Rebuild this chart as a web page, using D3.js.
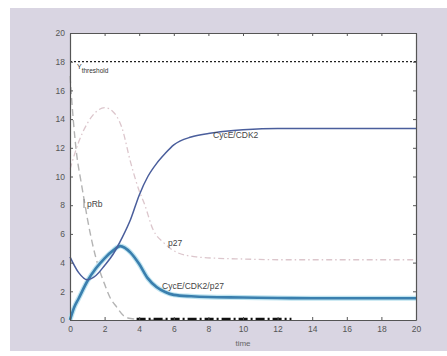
<!DOCTYPE html>
<html>
<head>
<meta charset="utf-8">
<script src="https://cdn.jsdelivr.net/npm/d3@7"></script>
<style>
    body { margin: 0; background: #fff; }
    svg { display: block; font-family: "Liberation Sans", Arial, sans-serif; }
</style>
</head>
<body>
<div id="chart"></div>
<script>
// values (time in x, level in y)
const xTicks = [0, 2, 4, 6, 8, 10, 12, 14, 16, 18, 20];
const yTicks = [0, 2, 4, 6, 8, 10, 12, 14, 16, 18, 20];
const threshold = 18;

const cdk2Time = [0, 0.5, 1, 1.5, 2, 2.5, 3, 3.5, 4, 4.5, 5, 5.5, 6, 7, 8, 9, 10, 12, 14, 16, 18, 20];
const cdk2Vals = [4.4, 3.3, 2.8, 3.1, 3.8, 4.6, 5.7, 7.0, 8.7, 10.0, 10.9, 11.6, 12.2, 12.75, 13.0, 13.15, 13.25, 13.35, 13.35, 13.35, 13.35, 13.35];

const complexTime = [0, 0.25, 0.5, 1, 1.5, 2, 2.5, 2.9, 3.5, 4, 4.5, 5, 5.5, 6, 7, 8, 10, 12, 14, 16, 18, 20];
const complexVals = [0, 0.9, 1.5, 2.7, 3.6, 4.3, 4.85, 5.15, 4.7, 3.9, 2.9, 2.3, 1.95, 1.75, 1.65, 1.6, 1.57, 1.53, 1.52, 1.52, 1.52, 1.52];

const p27Time = [0, 0.5, 1, 1.5, 2, 2.5, 3, 3.5, 4, 4.3, 4.8, 5.4, 6.2, 7.3, 8.5, 10, 12, 14, 16, 18, 20];
const p27Vals = [10.5, 12.4, 13.7, 14.5, 14.8, 14.5, 13.4, 11.0, 9.0, 8.1, 6.3, 5.4, 4.7, 4.4, 4.3, 4.25, 4.2, 4.2, 4.2, 4.2, 4.2];

const pRbTime = [0, 0.2, 0.4, 0.6, 0.8, 1.0, 1.3, 1.7, 2, 2.3, 2.7, 3.1, 3.5, 4, 5, 6];
const pRbVals = [17, 13.8, 11.4, 9.9, 8.5, 7.1, 5.3, 3.5, 2.5, 1.6, 0.9, 0.3, 0.1, 0.05, 0.02, 0];

const cycETime = [3.85, 6, 8, 10, 12.8];
const cycEVals = [0.08, 0.08, 0.08, 0.08, 0.08];

const W = 447, H = 356;
const plot = { left: 70, right: 416, top: 33, bottom: 320 };

const svg = d3.select("#chart").append("svg")
    .attr("width", W)
    .attr("height", H);

// lavender panel behind the axes
svg.append("rect")
    .attr("x", 10).attr("y", 8)
    .attr("width", W - 10).attr("height", 343)
    .attr("fill", "#d9d5e2");

svg.append("rect")
    .attr("x", plot.left).attr("y", plot.top)
    .attr("width", plot.right - plot.left).attr("height", plot.bottom - plot.top)
    .attr("fill", "#ffffff");

const x = d3.scaleLinear().domain([0, 20]).range([plot.left, plot.right]);
const y = d3.scaleLinear().domain([0, 20]).range([plot.bottom, plot.top]);

const line = d3.line()
    .x(d => x(d[0]))
    .y(d => y(d[1]))
    .curve(d3.curveMonotoneX);

const zip = (ts, vs) => ts.map((t, i) => [t, vs[i]]);

const g = svg.append("g");

// threshold
g.append("line")
    .attr("x1", x(0)).attr("x2", x(20))
    .attr("y1", y(threshold)).attr("y2", y(threshold))
    .attr("stroke", "#222").attr("stroke-width", 1.2)
    .attr("stroke-dasharray", "2,2");

// pRb
g.append("path")
    .datum(zip(pRbTime, pRbVals))
    .attr("d", line)
    .attr("fill", "none")
    .attr("stroke", "#b4b4b4").attr("stroke-width", 1.4)
    .attr("stroke-dasharray", "7,4");

// p27
g.append("path")
    .datum(zip(p27Time, p27Vals))
    .attr("d", line)
    .attr("fill", "none")
    .attr("stroke", "#dcc6cc").attr("stroke-width", 1.3)
    .attr("stroke-dasharray", "6,3,1.5,3");

// CycE/CDK2/p27 (thick, with light halo)
g.append("path")
    .datum(zip(complexTime, complexVals))
    .attr("d", line)
    .attr("fill", "none")
    .attr("stroke", "#bfe4f0").attr("stroke-width", 5);
g.append("path")
    .datum(zip(complexTime, complexVals))
    .attr("d", line)
    .attr("fill", "none")
    .attr("stroke", "#3a7fae").attr("stroke-width", 2.6);

// CycE/CDK2
g.append("path")
    .datum(zip(cdk2Time, cdk2Vals))
    .attr("d", line)
    .attr("fill", "none")
    .attr("stroke", "#4a5e9c").attr("stroke-width", 1.5);

// black dashed near zero
g.append("path")
    .datum(zip(cycETime, cycEVals))
    .attr("d", line)
    .attr("fill", "none")
    .attr("stroke", "#111").attr("stroke-width", 2.4)
    .attr("stroke-dasharray", "9,3,2,3");

// axes, MATLAB style ticks pointing inward
const tickStyle = sel => {
    sel.select(".domain").attr("stroke", "#555").attr("stroke-width", 1.2);
    sel.selectAll(".tick line").attr("stroke", "#555");
    sel.selectAll("text").attr("fill", "#555").attr("font-size", 8.5);
};

svg.append("g")
    .attr("transform", "translate(0," + plot.bottom + ")")
    .call(d3.axisBottom(x).tickValues(xTicks).tickSizeInner(-3).tickSizeOuter(0).tickPadding(6))
    .call(tickStyle);
svg.append("g")
    .attr("transform", "translate(" + plot.left + ",0)")
    .call(d3.axisLeft(y).tickValues(yTicks).tickSizeInner(-3).tickSizeOuter(0).tickPadding(5))
    .call(tickStyle);
svg.append("g")
    .attr("transform", "translate(0," + plot.top + ")")
    .call(d3.axisTop(x).tickValues(xTicks).tickSizeInner(-3).tickSizeOuter(0).tickFormat(""))
    .call(tickStyle);
svg.append("g")
    .attr("transform", "translate(" + plot.right + ",0)")
    .call(d3.axisRight(y).tickValues(yTicks).tickSizeInner(-3).tickSizeOuter(0).tickFormat(""))
    .call(tickStyle);

// labels
svg.append("text")
    .attr("x", (plot.left + plot.right) / 2).attr("y", 346)
    .attr("text-anchor", "middle")
    .attr("font-size", 8).attr("fill", "#666")
    .text("time");

const thr = svg.append("text")
    .attr("x", 77).attr("y", 69)
    .attr("font-size", 7).attr("fill", "#333");
thr.append("tspan").text("Y");
thr.append("tspan").attr("dy", 4).attr("font-size", 6.5).text("threshold");

const labels = [
    { text: "CycE/CDK2", x: 213, y: 138 },
    { text: "pRb", x: 87, y: 207 },
    { text: "p27", x: 168, y: 246 },
    { text: "CycE/CDK2/p27", x: 162, y: 289 }
];
svg.selectAll(".lbl")
    .data(labels)
    .enter()
    .append("text")
    .attr("class", "lbl")
    .attr("x", d => d.x).attr("y", d => d.y)
    .attr("font-size", 8.5).attr("fill", "#444")
    .text(d => d.text);
// small bar before pRb
svg.append("line")
    .attr("x1", 84).attr("x2", 84).attr("y1", 199).attr("y2", 208)
    .attr("stroke", "#888").attr("stroke-width", 1);
</script>
</body>
</html>
